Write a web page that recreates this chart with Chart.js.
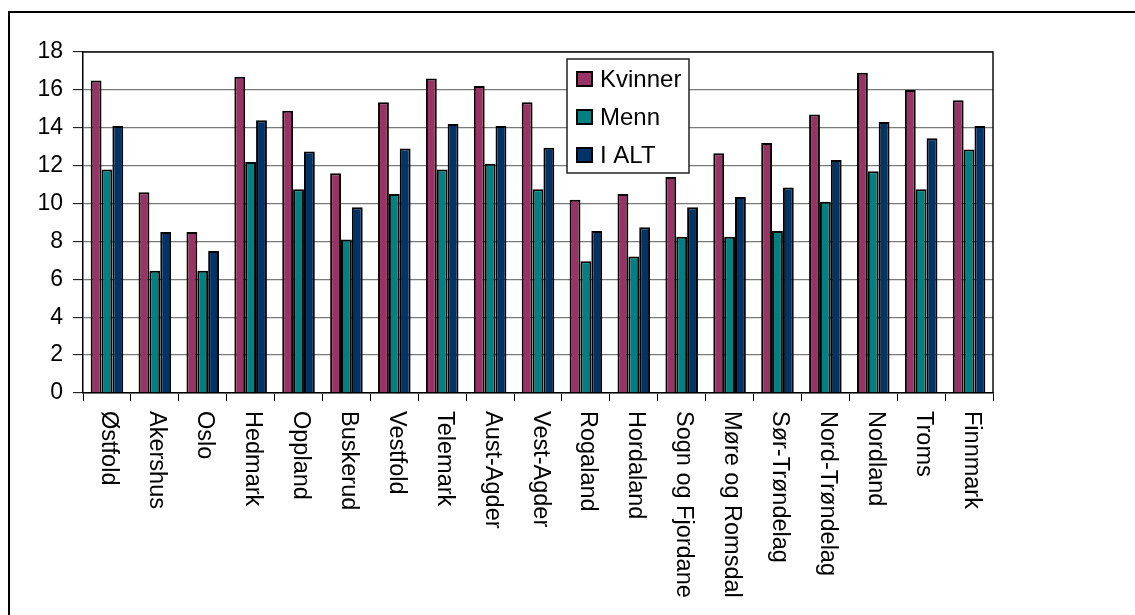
<!DOCTYPE html>
<html lang="no">
<head>
    <meta charset="UTF-8">
    <title>Kvinner, menn og i alt per fylke</title>
    <script src="https://cdn.jsdelivr.net/npm/chart.js"></script>
    <style>
        body {
            margin: 0;
            background-color: white;
        }

        #chartBox {
            width: 1135px;
            height: 615px;
        }
    </style>
</head>
<body>

    <div id="chartBox">
        <canvas id="fylkeChart" width="1135" height="615"></canvas>
    </div>

    <script>
        const fylker = ['Østfold', 'Akershus', 'Oslo', 'Hedmark', 'Oppland', 'Buskerud', 'Vestfold',
            'Telemark', 'Aust-Agder', 'Vest-Agder', 'Rogaland', 'Hordaland', 'Sogn og Fjordane',
            'Møre og Romsdal', 'Sør-Trøndelag', 'Nord-Trøndelag', 'Nordland', 'Troms', 'Finnmark'];

        const kvinner = [16.5, 10.6, 8.5, 16.7, 14.9, 11.6, 15.35, 16.6, 16.2, 15.35, 10.2, 10.5, 11.4, 12.65, 13.2, 14.7, 16.9, 16.0, 15.45];
        const menn = [11.8, 6.45, 6.45, 12.2, 10.75, 8.1, 10.5, 11.8, 12.1, 10.75, 6.95, 7.2, 8.25, 8.25, 8.55, 10.1, 11.7, 10.75, 12.85];
        const iAlt = [14.1, 8.5, 7.5, 14.4, 12.75, 9.8, 12.9, 14.2, 14.1, 12.95, 8.55, 8.75, 9.8, 10.35, 10.85, 12.3, 14.3, 13.45, 14.1];

        const yTicks = [0, 2, 4, 6, 8, 10, 12, 14, 16, 18];

        const fontName = '"Liberation Sans", Arial, sans-serif';

        // ramme rundt hele figuren + ramme rundt plottet
        const rammePlugin = {
            id: 'ramme',
            beforeDraw(chart) {
                const ctx = chart.ctx;
                ctx.save();
                ctx.fillStyle = 'white';
                ctx.fillRect(0, 0, chart.width, chart.height);
                ctx.strokeStyle = 'black';
                ctx.lineWidth = 2;
                ctx.beginPath();
                ctx.moveTo(9, chart.height + 2);
                ctx.lineTo(9, 12);
                ctx.lineTo(chart.width + 2, 12);
                ctx.stroke();
                ctx.restore();
            },
            afterDatasetsDraw(chart) {
                const a = chart.chartArea;
                const ctx = chart.ctx;
                ctx.save();
                ctx.strokeStyle = '#111';
                ctx.lineWidth = 1.5;
                ctx.beginPath();
                ctx.moveTo(a.left, a.top);
                ctx.lineTo(a.right, a.top);
                ctx.lineTo(a.right, a.bottom);
                ctx.stroke();
                ctx.restore();
            }
        };

        // kategorinavn skrevet ovenfra og ned
        const etiketterPlugin = {
            id: 'etiketter',
            afterDraw(chart) {
                const xScale = chart.scales.x;
                const ctx = chart.ctx;
                ctx.save();
                ctx.fillStyle = 'black';
                ctx.font = '23.5px ' + fontName;
                ctx.textAlign = 'left';
                ctx.textBaseline = 'middle';
                chart.data.labels.forEach((label, i) => {
                    const x = xScale.getPixelForValue(i) + 2;
                    ctx.save();
                    ctx.translate(x, chart.chartArea.bottom + 18);
                    ctx.rotate(Math.PI / 2);
                    ctx.fillText(label, 0, 0);
                    ctx.restore();
                });
                ctx.restore();
            }
        };

        // tegnforklaring inne i plottet
        const forklaringPlugin = {
            id: 'forklaring',
            afterDraw(chart) {
                const ctx = chart.ctx;
                const boxX = 567, boxY = 59, boxW = 122, boxH = 114;
                ctx.save();
                ctx.fillStyle = 'white';
                ctx.fillRect(boxX, boxY, boxW, boxH);
                ctx.strokeStyle = '#222';
                ctx.lineWidth = 1.5;
                ctx.strokeRect(boxX, boxY, boxW, boxH);
                ctx.font = '24px ' + fontName;
                ctx.textBaseline = 'middle';
                chart.data.datasets.forEach((ds, i) => {
                    const cy = boxY + 20 + i * 38;
                    ctx.fillStyle = ds.backgroundColor;
                    ctx.fillRect(577, cy - 7, 15, 14);
                    ctx.strokeStyle = 'black';
                    ctx.lineWidth = 2;
                    ctx.strokeRect(577, cy - 7, 15, 14);
                    ctx.fillStyle = 'black';
                    ctx.fillText(ds.label, 600, cy + 1);
                });
                ctx.restore();
            }
        };

        const ctx = document.getElementById('fylkeChart').getContext('2d');

        new Chart(ctx, {
            type: 'bar',
            data: {
                labels: fylker,
                datasets: [
                    { label: 'Kvinner', data: kvinner, backgroundColor: '#993366' },
                    { label: 'Menn', data: menn, backgroundColor: '#008080' },
                    { label: 'I ALT', data: iAlt, backgroundColor: '#003366' }
                ]
            },
            options: {
                responsive: false,
                animation: false,
                devicePixelRatio: 1,
                layout: {
                    padding: { left: 0, top: 52, right: 142, bottom: 0 }
                },
                datasets: {
                    bar: {
                        borderColor: 'black',
                        borderWidth: 2,
                        categoryPercentage: 0.68,
                        barPercentage: 1
                    }
                },
                plugins: {
                    legend: { display: false },
                    tooltip: { enabled: false }
                },
                scales: {
                    x: {
                        ticks: { display: false },
                        grid: {
                            drawOnChartArea: false,
                            offset: true,
                            tickLength: 8,
                            tickColor: 'black',
                            tickWidth: 1
                        },
                        border: { color: 'black', width: 1.5 },
                        afterFit(scale) {
                            scale.height = 222;
                        }
                    },
                    y: {
                        min: 0,
                        max: 18,
                        afterBuildTicks(scale) {
                            scale.ticks = yTicks.map(v => ({ value: v }));
                        },
                        ticks: {
                            color: 'black',
                            padding: 10,
                            font: { family: fontName, size: 23 }
                        },
                        grid: {
                            color: '#7a7a7a',
                            lineWidth: 1.3,
                            tickLength: 10,
                            tickColor: 'black',
                            tickWidth: 1
                        },
                        border: { color: 'black', width: 1.5 },
                        afterFit(scale) {
                            scale.width = 83;
                        }
                    }
                }
            },
            plugins: [rammePlugin, etiketterPlugin, forklaringPlugin]
        });
    </script>

</body>
</html>
